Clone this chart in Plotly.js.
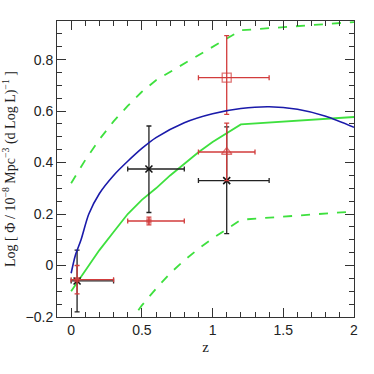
<!DOCTYPE html>
<html>
<head>
<meta charset="utf-8">
<script src="https://cdn.plot.ly/plotly-3.0.1.min.js"></script>
<style>
  html, body { margin: 0; padding: 0; background: #fff; }
  #chart { width: 374px; height: 374px; }
</style>
</head>
<body>
<div id="chart"></div>
<script>
// model curves
const zBlue = [0, 0.03, 0.07, 0.125, 0.2, 0.3, 0.4, 0.5, 0.6, 0.8, 1.0, 1.2, 1.4, 1.6, 1.8, 2.0];
const yBlue = [-0.03, 0.04, 0.1, 0.2, 0.28, 0.35, 0.405, 0.455, 0.497, 0.555, 0.59, 0.61, 0.617, 0.607, 0.58, 0.537];

const zGreen = [0, 0.1, 0.2, 0.3, 0.4, 0.5, 0.6, 0.7, 0.8, 0.9, 1.0, 1.1, 1.2, 2.0];
const yGreen = [-0.1, -0.02, 0.06, 0.13, 0.2, 0.255, 0.3, 0.35, 0.395, 0.44, 0.48, 0.515, 0.548, 0.577];

const zUpper = [0, 0.1, 0.2, 0.3, 0.4, 0.5, 0.6, 0.8, 1.0, 1.2, 2.0];
const yUpper = [0.32, 0.41, 0.49, 0.56, 0.62, 0.675, 0.72, 0.785, 0.85, 0.914, 0.946];

const zLower = [0.4, 0.5, 0.6, 0.7, 0.8, 0.9, 1.0, 1.1, 1.2, 2.0];
const yLower = [-0.23, -0.155, -0.09, -0.03, 0.02, 0.065, 0.105, 0.14, 0.178, 0.21];

// black points (x marks)
const zBlack = [0.042, 0.55, 1.1];
const yBlack = [-0.06, 0.375, 0.33];
const zBlackLo = [0, 0.4, 0.9];
const zBlackHi = [0.3, 0.8, 1.4];
const yBlackLo = [-0.18, 0.206, 0.124];
const yBlackHi = [0.06, 0.542, 0.539];

// red points: filled, filled, open triangle, open square
const zRed = [0.042, 0.55, 1.1, 1.1];
const yRed = [-0.055, 0.173, 0.441, 0.73];
const zRedLo = [0, 0.4, 0.9, 0.9];
const zRedHi = [0.3, 0.8, 1.3, 1.4];
const yRedLo = [-0.11, 0.158, 0.33, 0.587];
const yRedHi = [0.0, 0.188, 0.553, 0.893];
const redSymbols = ["square", "square", "triangle-up-open", "square-open"];
const redSizes = [4, 4, 9, 9];

const plus = (v, hi) => hi.map((h, i) => h - v[i]);
const minus = (v, lo) => lo.map((l, i) => v[i] - l);

const red = "#d23c3c";
const green = "#3ee03e";

const traces = [
  {
    x: zUpper, y: yUpper, mode: "lines",
    line: { color: green, width: 1.8, dash: "dash" }
  },
  {
    x: zLower, y: yLower, mode: "lines",
    line: { color: green, width: 1.8, dash: "dash" }
  },
  {
    x: zGreen, y: yGreen, mode: "lines",
    line: { color: green, width: 1.8 }
  },
  {
    // drawn on the mirror axes so the top/right frame gets its ticks
    x: zBlue, y: yBlue, mode: "lines", xaxis: "x2", yaxis: "y2",
    line: { color: "#1a1aaa", width: 1.6, shape: "spline", smoothing: 0.8 }
  },
  {
    x: zBlack, y: yBlack, mode: "markers",
    marker: { symbol: "x-thin", size: 7, line: { color: "#111", width: 1.6 } },
    error_x: { type: "data", symmetric: false, array: plus(zBlack, zBlackHi), arrayminus: minus(zBlack, zBlackLo), color: "#222", thickness: 1.3, width: 2.5 },
    error_y: { type: "data", symmetric: false, array: plus(yBlack, yBlackHi), arrayminus: minus(yBlack, yBlackLo), color: "#222", thickness: 1.3, width: 2.5 }
  },
  {
    x: zRed, y: yRed, mode: "markers",
    marker: { symbol: redSymbols, size: redSizes, color: red, line: { color: red, width: 1.3 } },
    error_x: { type: "data", symmetric: false, array: plus(zRed, zRedHi), arrayminus: minus(zRed, zRedLo), color: red, thickness: 1.3, width: 2.5 },
    error_y: { type: "data", symmetric: false, array: plus(yRed, yRedHi), arrayminus: minus(yRed, yRedLo), color: red, thickness: 1.3, width: 2.5 }
  }
];

const axisCommon = {
  showgrid: false,
  zeroline: false,
  showline: true,
  linecolor: "#333",
  ticks: "inside",
  tickcolor: "#333",
  tickwidth: 1,
  ticklen: 9,
  tickfont: { family: "Liberation Sans, Arial, sans-serif", size: 14, color: "#222" }
};

const xMinor = { dtick: 0.1, tick0: 0, ticks: "inside", ticklen: 5 };
const yMinor = { dtick: 0.05, tick0: 0, ticks: "inside", ticklen: 5 };
const xRange = [-0.1, 2];
const yRange = [-0.2, 0.95];

const layout = {
  width: 374,
  height: 374,
  margin: { l: 57, r: 20, t: 21, b: 57 },
  showlegend: false,
  xaxis: Object.assign({}, axisCommon, {
    range: xRange, tick0: 0, dtick: 0.5, minor: xMinor,
    title: { text: "z", font: { family: "Liberation Serif, serif", size: 15, color: "#222" }, standoff: 4 }
  }),
  yaxis: Object.assign({}, axisCommon, {
    range: yRange, tick0: 0, dtick: 0.2, minor: yMinor,
    title: {
      text: "Log [ \u03a6 / 10<sup>\u22128</sup> Mpc<sup>\u22123</sup> (d Log L)<sup>\u22121</sup> ]",
      font: { family: "Liberation Serif, serif", size: 14, color: "#222" },
      standoff: 8
    }
  }),
  xaxis2: Object.assign({}, axisCommon, {
    range: xRange, tick0: 0, dtick: 0.5, minor: xMinor,
    overlaying: "x", side: "top", showticklabels: false
  }),
  yaxis2: Object.assign({}, axisCommon, {
    range: yRange, tick0: 0, dtick: 0.2, minor: yMinor,
    overlaying: "y", side: "right", showticklabels: false
  })
};

Plotly.newPlot("chart", traces, layout, { staticPlot: true, displayModeBar: false });
</script>
</body>
</html>
